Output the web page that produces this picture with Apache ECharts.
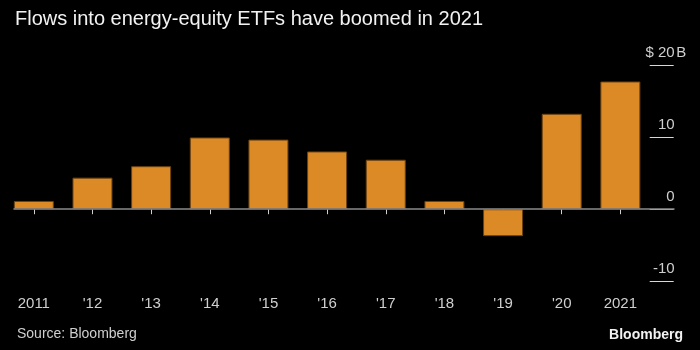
<!DOCTYPE html>
<html>
<head>
<meta charset="utf-8">
<script src="https://cdn.jsdelivr.net/npm/echarts@6/dist/echarts.min.js"></script>
<style>
  html, body { margin: 0; padding: 0; background: #000; }
  #chart { width: 700px; height: 350px; }
</style>
</head>
<body>
<div id="chart"></div>
<script>
// flows into energy-equity ETFs, $ billions
const years = ['2011', "'12", "'13", "'14", "'15", "'16", "'17", "'18", "'19", "'20", '2021']
const flows = [1.15, 4.4, 6.0, 10.0, 9.7, 8.05, 6.9, 1.15, -3.75, 13.3, 17.8]
const yTicks = [-10, 0, 10, 20]

const font = 'Liberation Sans'
const chart = echarts.init(document.getElementById('chart'))

const option = {
  backgroundColor: '#000',
  animation: false,
  title: [
    {
      text: 'Flows into energy-equity ETFs have boomed in 2021',
      left: 10,
      top: 4,
      textStyle: { color: '#f2f2f2', fontSize: 20, fontWeight: 'normal', fontFamily: font }
    },
    {
      text: 'Source: Bloomberg',
      left: 12,
      top: 322,
      textStyle: { color: '#cfcfcf', fontSize: 14, fontWeight: 'normal', fontFamily: font }
    },
    {
      text: 'Bloomberg',
      right: 12,
      top: 323,
      textStyle: { color: '#f2f2f2', fontSize: 14, fontWeight: 'bold', fontFamily: font }
    }
  ],
  grid: [
    { left: 4.5, right: 50.3, top: 65.7, bottom: 69 },
    // used only for the zero line that runs out to the right labels
    { left: 14, right: 26, top: 65.7, bottom: 69 }
  ],
  xAxis: [
    {
      type: 'category',
      gridIndex: 0,
      data: years,
      axisLine: { show: false },
      axisTick: { show: true, alignWithLabel: true, length: 5, lineStyle: { color: '#cfcfcf' } },
      axisLabel: { color: '#cfcfcf', fontSize: 15, fontFamily: font, margin: 15 }
    },
    {
      type: 'value',
      gridIndex: 1,
      min: 0,
      max: 1,
      z: 5,
      axisLine: { show: true, onZero: true, lineStyle: { color: '#8a8a8a', width: 1.5 } },
      axisTick: { show: false },
      axisLabel: { show: false },
      splitLine: { show: false }
    }
  ],
  yAxis: [
    {
      type: 'value',
      gridIndex: 0,
      position: 'right',
      min: yTicks[0],
      max: yTicks[yTicks.length - 1],
      interval: 10,
      axisLine: { show: false },
      axisTick: { show: true, inside: false, length: 24, lineStyle: { color: '#d8d8d8' } },
      splitLine: { show: false },
      axisLabel: {
        margin: 38,
        align: 'right',
        verticalAlign: 'bottom',
        padding: [0, 0, 5, 0],
        formatter: v => v === 20 ? '{n|$ 20}{s|B}' : '{n|' + v + '}{s| }',
        rich: {
          n: { color: '#cfcfcf', fontSize: 15, fontFamily: font },
          s: { color: '#cfcfcf', fontSize: 15, fontFamily: font, width: 13, align: 'left' }
        }
      }
    },
    {
      type: 'value',
      gridIndex: 1,
      min: yTicks[0],
      max: yTicks[yTicks.length - 1],
      show: false
    }
  ],
  series: [
    {
      type: 'bar',
      xAxisIndex: 0,
      yAxisIndex: 0,
      data: flows,
      barWidth: 40,
      itemStyle: { color: '#dc8a26', borderColor: '#6a4212', borderWidth: 1 }
    }
  ]
}

chart.setOption(option)
</script>
</body>
</html>
